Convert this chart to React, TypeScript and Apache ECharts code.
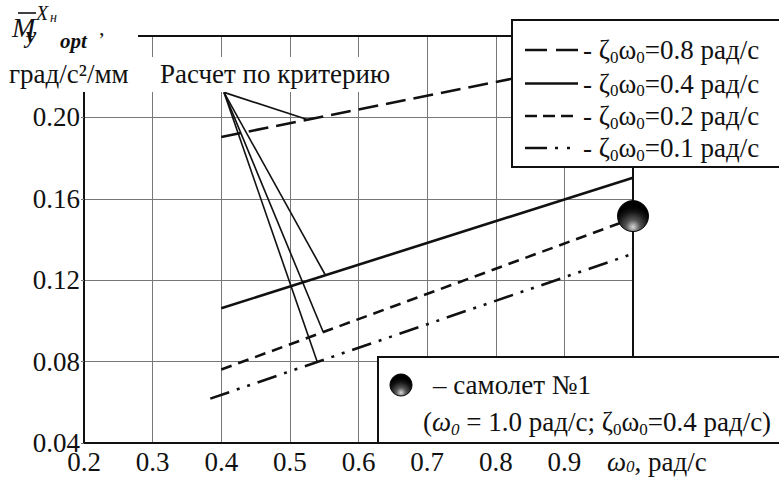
import { useEffect, useRef } from "react";
import * as echarts from "echarts";

// Axis ranges and tick steps
const xMin = 0.2;
const xMax = 1.0;
const xStep = 0.1;
const yMin = 0.04;
const yMax = 0.24;
const yStep = 0.04;

// Series (omega0, M optimum) for each zeta0*omega0 value
const legendValues = ["0.8", "0.4", "0.2", "0.1"];
const omega08 = [0.4, 1.0];
const m08 = [0.1904, 0.2309];
const omega04 = [0.4, 1.0];
const m04 = [0.1062, 0.1704];
const omega02 = [0.4, 1.0];
const m02 = [0.0761, 0.1504];
const omega01 = [0.384, 1.0];
const m01 = [0.0618, 0.133];

// Aircraft No.1 point
const aircraftOmega = [1.0];
const aircraftM = [0.1515];

// Callout "Расчет по критерию"
const calloutApex = [0.404, 0.2123];
const calloutEndOmega = [0.5265, 0.5513, 0.5484, 0.5397];
const calloutEndM = [0.1988, 0.1228, 0.0947, 0.08];

const SERIF = "Times New Roman, Liberation Serif, DejaVu Serif, serif";
const INK = "#111";
const FS = 27;

const dash08 = [20, 8];
const dash02 = [11, 7];
const dash01 = [20, 8, 3, 8, 3, 8];

export default function App() {
  const ref = useRef<HTMLDivElement>(null);

  useEffect(() => {
    if (!ref.current) return;
    const chart = echarts.init(ref.current, undefined, { renderer: "svg" });

    const mkLine = (name: string, xs: number[], ys: number[], dash: any, width: number) => ({
      type: "line",
      name,
      data: xs.map((x, i) => [x, ys[i]]),
      symbol: "none",
      showSymbol: false,
      silent: true,
      z: 3,
      lineStyle: { color: INK, width, type: dash },
    });

    const callouts = calloutEndOmega.map((x, i) => ({
      type: "line",
      data: [calloutApex, [x, calloutEndM[i]]],
      symbol: "none",
      showSymbol: false,
      silent: true,
      z: 4,
      lineStyle: { color: INK, width: 1.6, type: "solid" },
    }));

    const sphere = () => ({
      type: "radial",
      x: 0.5,
      y: 0.85,
      r: 0.65,
      colorStops: [
        { offset: 0, color: "#d8d8d8" },
        { offset: 0.35, color: "#555" },
        { offset: 0.75, color: "#151515" },
        { offset: 1, color: "#000" },
      ],
    });

    const main = { fontSize: FS, fontFamily: SERIF, fill: INK, lineHeight: 31, verticalAlign: "middle" };
    const sub = { fontSize: 17, fontFamily: SERIF, fill: INK, lineHeight: 15, verticalAlign: "bottom" };
    const mainI = { ...main, fontStyle: "italic" };
    const subI = { ...sub, fontStyle: "italic" };
    const richSet = { t: main, s: sub, i: mainI, si: subI };
    const richTight = {
      t: { ...main, lineHeight: 26 },
      s: { ...sub, lineHeight: 12 },
      i: { ...mainI, lineHeight: 26 },
      si: { ...subI, lineHeight: 12 },
    };

    const legendRowY = [50, 83.5, 116, 148];
    const legendDashes: any[] = [[22, 9], null, [12, 6], [22, 8, 3, 9, 3, 9]];

    const txt = (x: number, y: number, text: string, extra: any = {}) => ({
      type: "text",
      z: 101,
      x,
      y,
      style: { text, fontSize: FS, fontFamily: SERIF, fill: INK, verticalAlign: "middle", ...extra },
    });

    const graphic: any[] = [
      // white masks behind the axis title texts
      { type: "rect", z: 100, shape: { x: 0, y: 0, width: 138, height: 58 }, style: { fill: "#fff" } },
      { type: "rect", z: 100, shape: { x: 0, y: 57, width: 400, height: 35 }, style: { fill: "#fff" } },
      // Y axis title: M-bar y^{Xн} opt ,
      txt(12, 27, "M", { fontSize: 28, fontStyle: "italic" }),
      { type: "line", z: 101, shape: { x1: 18, y1: 13, x2: 36, y2: 13 }, style: { stroke: INK, lineWidth: 1.6 } },
      txt(36, 13, "X", { fontSize: 20, fontStyle: "italic" }),
      txt(50, 17, "н", { fontSize: 14, fontStyle: "italic" }),
      txt(26, 35, "y", { fontSize: 23, fontStyle: "italic", fontWeight: "bold" }),
      txt(60, 41, "opt", { fontSize: 21, fontStyle: "italic", fontWeight: "bold" }),
      txt(99, 27, ",", { fontSize: 22 }),
      txt(9, 74, "град/с²/мм"),
      txt(160, 74, "Расчет по критерию"),
      // X axis title
      { type: "text", z: 101, x: 607, y: 462, style: { text: "{i|ω}{si|0}{t|, рад/с}", rich: richTight, verticalAlign: "middle" } },
      // Upper legend
      { type: "rect", z: 100, shape: { x: 512, y: 20, width: 300, height: 147 }, style: { fill: "#fff", stroke: INK, lineWidth: 2 } },
      // Lower legend
      { type: "rect", z: 100, shape: { x: 378, y: 357, width: 420, height: 86 }, style: { fill: "#fff", stroke: INK, lineWidth: 2 } },
      { type: "circle", z: 101, shape: { cx: 401, cy: 385, r: 11 }, style: { fill: sphere(), stroke: "#000", lineWidth: 1 } },
      txt(433, 385, "– самолет №1"),
      { type: "text", z: 101, x: 423, y: 422, style: { text: "{t|(}{i|ω}{si|0}{t| = 1.0 рад/с; ζ}{s|0}{t|ω}{s|0}{t|=0.4 рад/с)}", rich: richSet, verticalAlign: "middle" } },
    ];

    legendValues.forEach((v, i) => {
      graphic.push({
        type: "line",
        z: 101,
        shape: { x1: 525, y1: legendRowY[i], x2: 578, y2: legendRowY[i] },
        style: { stroke: INK, lineWidth: 2.6, lineDash: legendDashes[i] || undefined },
      });
      graphic.push({
        type: "text",
        z: 101,
        x: 583,
        y: legendRowY[i],
        style: { text: `{t|- ζ}{s|0}{t|ω}{s|0}{t|=${v} рад/с}`, rich: richSet, verticalAlign: "middle" },
      });
    });

    const option: any = {
      animation: false,
      backgroundColor: "#fff",
      textStyle: { fontFamily: SERIF },
      grid: { left: 84, right: 146, top: 36, bottom: 34, containLabel: false },
      xAxis: [
        {
          type: "value",
          min: xMin,
          max: xMax,
          interval: xStep,
          position: "bottom",
          axisLine: { show: true, onZero: false, lineStyle: { color: INK, width: 2 } },
          axisTick: { show: false },
          axisLabel: {
            margin: 5,
            fontSize: FS,
            fontFamily: SERIF,
            color: INK,
            formatter: (v: number) => (v > xMax - xStep / 2 ? "" : v.toFixed(1)),
          },
          splitLine: { show: true, lineStyle: { color: "#777", width: 1 } },
        },
        {
          type: "value",
          min: xMin,
          max: xMax,
          interval: xStep,
          position: "top",
          axisLine: { show: true, onZero: false, lineStyle: { color: INK, width: 2 } },
          axisTick: { show: false },
          axisLabel: { show: false },
          splitLine: { show: false },
        },
      ],
      yAxis: [
        {
          type: "value",
          min: yMin,
          max: yMax,
          interval: yStep,
          position: "left",
          axisLine: { show: true, onZero: false, lineStyle: { color: INK, width: 2 } },
          axisTick: { show: true, length: 3, lineStyle: { color: "#777" } },
          axisLabel: {
            margin: 4,
            fontSize: FS,
            fontFamily: SERIF,
            color: INK,
            formatter: (v: number) => (v > yMax - yStep / 2 ? "" : v.toFixed(2)),
          },
          splitLine: { show: true, lineStyle: { color: "#777", width: 1 } },
        },
        {
          type: "value",
          min: yMin,
          max: yMax,
          interval: yStep,
          position: "right",
          axisLine: { show: true, onZero: false, lineStyle: { color: INK, width: 2 } },
          axisTick: { show: false },
          axisLabel: { show: false },
          splitLine: { show: false },
        },
      ],
      series: [
        mkLine("ζ0ω0=0.8 рад/с", omega08, m08, dash08, 2.6),
        mkLine("ζ0ω0=0.4 рад/с", omega04, m04, "solid", 2.6),
        mkLine("ζ0ω0=0.2 рад/с", omega02, m02, dash02, 2.6),
        mkLine("ζ0ω0=0.1 рад/с", omega01, m01, dash01, 2.6),
        ...callouts,
        {
          type: "scatter",
          name: "самолет №1",
          data: aircraftOmega.map((x, i) => [x, aircraftM[i]]),
          symbol: "circle",
          symbolSize: 31,
          z: 6,
          silent: true,
          itemStyle: { color: sphere(), borderColor: "#000", borderWidth: 1, opacity: 1 },
        },
      ],
      graphic,
    };

    chart.setOption(option);
    return () => chart.dispose();
  }, []);

  return (
    <div
      ref={ref}
      style={{ position: "fixed", left: 0, top: 0, width: 779, height: 477, background: "#fff" }}
    />
  );
}
